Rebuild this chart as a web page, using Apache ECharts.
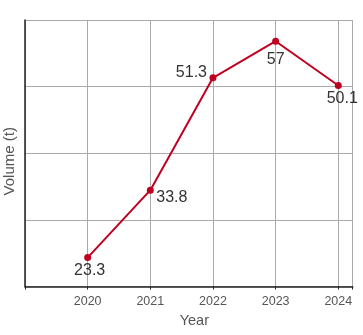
<!DOCTYPE html>
<html>
<head>
<meta charset="utf-8">
<script src="https://cdn.jsdelivr.net/npm/echarts@6/dist/echarts.min.js"></script>
<style>
  html, body { margin: 0; padding: 0; background: #fff; }
  #chart { width: 363px; height: 335px; }
</style>
</head>
<body>
<div id="chart"></div>
<script>
// Annual volume, tonnes
const years = [2020, 2021, 2022, 2023, 2024];
const volumes = [23.3, 33.8, 51.3, 57, 50.1];

// Where each value label sits relative to its point
const labelPlacement = [
  { position: 'bottom', distance: 0, offset: [2, 1] },
  { position: 'right', distance: 2.5, offset: [0, 7] },
  { position: 'left', distance: 2.5, offset: [0, -5] },
  { position: 'bottom', distance: 0, offset: [0, 6.5] },
  { position: 'bottom', distance: 0, offset: [4, 1.5] }
];

const LINE_COLOR = '#c00020';
const FONT = '"Liberation Sans", Arial, sans-serif';

const chart = echarts.init(document.getElementById('chart'), null, { renderer: 'canvas' });

const points = years.map((y, i) => ({
  value: [y, volumes[i]],
  label: Object.assign({ show: true }, labelPlacement[i])
}));

chart.setOption({
  animation: false,
  grid: { left: 25, right: 10.3, top: 20, bottom: 48.5, outerBoundsMode: 'none', containLabel: false },
  xAxis: {
    type: 'value',
    min: 2019,
    max: 2024.23,
    interval: 1,
    name: 'Year',
    nameLocation: 'middle',
    nameGap: 23,
    nameTextStyle: { fontFamily: FONT, fontSize: 14.5, color: '#555', padding: [0, 0, 0, 11] },
    axisLine: { show: true, lineStyle: { color: '#222', width: 1.5 } },
    axisTick: { show: true, length: 3, lineStyle: { color: '#222' } },
    axisLabel: {
      fontFamily: FONT, fontSize: 12.5, color: '#555', margin: 9,
      formatter: v => (v >= 2020 && v <= 2024 && Number.isInteger(v)) ? String(v) : ''
    },
    splitLine: { show: true, lineStyle: { color: '#aaa', width: 1 } }
  },
  yAxis: [
    {
      type: 'value',
      min: 18.8,
      max: 60.3,
      name: 'Volume (t)',
      nameLocation: 'middle',
      nameGap: 8,
      nameTextStyle: { fontFamily: FONT, fontSize: 15, color: '#555', padding: [0, 16, 0, 0] },
      axisLine: { show: true, lineStyle: { color: '#222', width: 1.5 } },
      axisTick: { show: false },
      axisLabel: { show: false },
      splitLine: { show: false }
    },
    {
      // four equal bands for the horizontal grid
      type: 'value',
      min: 0,
      max: 4,
      interval: 1,
      position: 'left',
      axisLine: { show: false },
      axisTick: { show: false },
      axisLabel: { show: false },
      splitLine: { show: true, lineStyle: { color: '#aaa', width: 1 } }
    }
  ],
  series: [{
    type: 'line',
    yAxisIndex: 0,
    data: points,
    symbol: 'circle',
    symbolSize: 7,
    itemStyle: { color: LINE_COLOR },
    lineStyle: { color: LINE_COLOR, width: 2 },
    label: { fontFamily: FONT, fontSize: 16, color: '#333' },
    z: 3
  }]
});
</script>
</body>
</html>
